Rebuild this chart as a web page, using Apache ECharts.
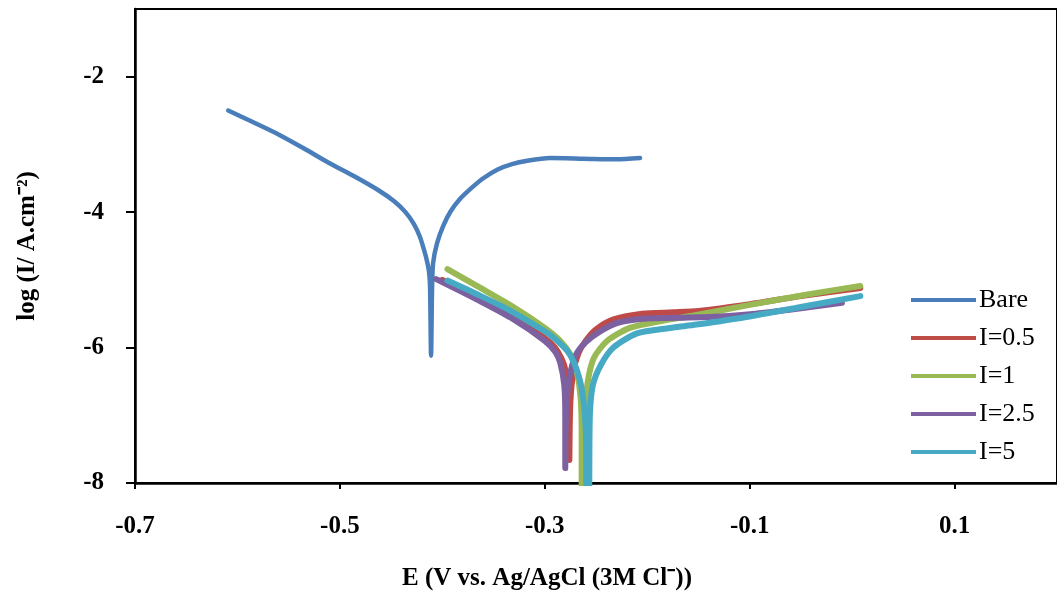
<!DOCTYPE html>
<html>
<head>
<meta charset="utf-8">
<script src="https://cdn.jsdelivr.net/npm/echarts@6/dist/echarts.min.js"></script>
<style>
html,body{margin:0;padding:0;background:#fff;}
#chart{width:1057px;height:597px;}
</style>
</head>
<body>
<div id="chart"></div>
<script>
// ---- data (E in V vs Ag/AgCl, log I in A.cm-2) ----
const seriesNames = ['Bare', 'I=0.5', 'I=1', 'I=2.5', 'I=5'];
const xTicks = [-0.7, -0.5, -0.3, -0.1, 0.1];
const yTicks = [-8, -6, -4, -2];

const bare = [
  [-0.609,-2.50],[-0.585,-2.67],[-0.559,-2.86],[-0.535,-3.06],[-0.511,-3.27],[-0.486,-3.47],
  [-0.462,-3.68],[-0.447,-3.84],[-0.436,-4.00],[-0.428,-4.17],[-0.422,-4.36],[-0.418,-4.55],
  [-0.415,-4.72],[-0.413,-4.88],[-0.412,-5.10],[-0.411,-6.12],[-0.410,-5.10],[-0.409,-4.75],
  [-0.405,-4.45],[-0.399,-4.20],[-0.392,-3.99],[-0.383,-3.81],[-0.372,-3.65],[-0.360,-3.50],
  [-0.346,-3.37],[-0.332,-3.29],[-0.317,-3.24],[-0.295,-3.20],[-0.262,-3.21],[-0.230,-3.22],[-0.207,-3.20]
];
const i05 = [
  [-0.400,-5.00],[-0.365,-5.26],[-0.333,-5.52],[-0.300,-5.86],[-0.290,-6.00],[-0.284,-6.15],
  [-0.280,-6.32],[-0.277,-6.70],[-0.276,-7.20],[-0.276,-7.66],[-0.275,-6.80],[-0.272,-6.35],
  [-0.267,-6.08],[-0.260,-5.90],[-0.250,-5.73],[-0.232,-5.58],[-0.205,-5.50],[-0.175,-5.48],
  [-0.150,-5.46],[-0.100,-5.36],[-0.050,-5.24],[0.008,-5.12]
];
const i1 = [
  [-0.395,-4.84],[-0.365,-5.10],[-0.333,-5.38],[-0.300,-5.71],[-0.285,-5.90],[-0.275,-6.10],
  [-0.269,-6.34],[-0.265,-6.74],[-0.264,-7.30],[-0.264,-8.30],[-0.262,-8.30],[-0.261,-7.00],
  [-0.258,-6.50],[-0.252,-6.15],[-0.239,-5.90],[-0.217,-5.71],[-0.184,-5.60],[-0.152,-5.52],
  [-0.100,-5.37],[-0.045,-5.22],[0.008,-5.09]
];
const i25 = [
  [-0.406,-4.99],[-0.365,-5.30],[-0.333,-5.56],[-0.300,-5.90],[-0.290,-6.06],[-0.285,-6.22],
  [-0.281,-6.55],[-0.280,-7.00],[-0.280,-7.78],[-0.279,-6.90],[-0.276,-6.45],[-0.270,-6.12],
  [-0.260,-5.92],[-0.246,-5.76],[-0.228,-5.63],[-0.200,-5.57],[-0.170,-5.56],[-0.130,-5.54],
  [-0.094,-5.50],[-0.050,-5.42],[-0.010,-5.34]
];
const i5 = [
  [-0.395,-5.01],[-0.365,-5.22],[-0.333,-5.46],[-0.300,-5.76],[-0.291,-5.86],[-0.278,-6.05],
  [-0.271,-6.24],[-0.264,-6.60],[-0.260,-7.20],[-0.259,-8.30],[-0.257,-8.30],[-0.256,-7.00],
  [-0.253,-6.55],[-0.245,-6.25],[-0.233,-6.00],[-0.210,-5.79],[-0.178,-5.71],[-0.152,-5.66],
  [-0.100,-5.54],[-0.050,-5.40],[0.008,-5.24]
];
const seriesData = [bare, i05, i1, i25, i5];
const colors = ['#4a7ebb', '#be4b48', '#98b954', '#7d60a0', '#46aac5'];
const widths = [4.5, 6, 6, 6, 6];

const chart = echarts.init(document.getElementById('chart'), null, {renderer: 'canvas'});
const serif = 'Liberation Serif, Times New Roman, serif';

chart.setOption({
  animation: false,
  backgroundColor: '#fff',
  grid: {left: 135, top: 9, right: -6, bottom: 114, show: true, borderColor: '#000', borderWidth: 2},
  legend: {
    orient: 'vertical', left: 906, top: 282, itemGap: 12,
    icon: 'rect', itemWidth: 65, itemHeight: 4,
    textStyle: {fontFamily: serif, fontSize: 26, color: '#000', padding: [0,0,0,-2]},
    data: seriesNames
  },
  xAxis: {
    type: 'value', min: -0.7, max: 0.2, interval: 0.2,
    name: 'E (V vs. Ag/AgCl (3M Cl\u207B))',
    nameLocation: 'middle', nameGap: 83,
    nameTextStyle: {fontFamily: serif, fontWeight: 'bold', fontSize: 25, color: '#000', padding: [0, 98, 0, 0]},
    axisLine: {show: true, onZero: false, lineStyle: {color: '#000', width: 2.5}},
    axisTick: {show: true, inside: false, length: 6, lineStyle: {color: '#000', width: 2}, customValues: xTicks},
    axisLabel: {fontFamily: serif, fontWeight: 'bold', fontSize: 25, color: '#000', margin: 31,
      customValues: xTicks, formatter: v => (Math.round(v * 10) / 10).toFixed(1)},
    splitLine: {show: false}
  },
  yAxis: {
    type: 'value', min: -8, max: -1, interval: 2,
    name: 'log (I/ A.cm\u207B\u00B2)',
    nameLocation: 'middle', nameGap: 95, nameRotate: 90,
    nameTextStyle: {fontFamily: serif, fontWeight: 'bold', fontSize: 25, color: '#000'},
    axisLine: {show: true, onZero: false, lineStyle: {color: '#000', width: 2.5}},
    axisTick: {show: true, inside: false, length: 9, lineStyle: {color: '#000', width: 2}, customValues: yTicks},
    axisLabel: {fontFamily: serif, fontWeight: 'bold', fontSize: 25, color: '#000', margin: 31,
      customValues: yTicks},
    splitLine: {show: false}
  },
  series: seriesNames.map((n, i) => ({
    name: n, type: 'line', data: seriesData[i], showSymbol: false, symbol: 'none',
    smooth: 0.25, clip: true,
    lineStyle: {color: colors[i], width: widths[i], cap: 'round', join: 'round'},
    itemStyle: {color: colors[i]}
  }))
});
</script>
</body>
</html>
